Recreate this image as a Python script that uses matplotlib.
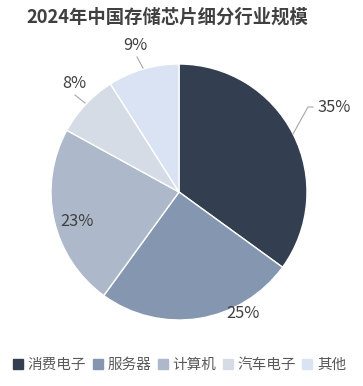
import matplotlib
matplotlib.use("Agg")
import matplotlib.pyplot as plt
from matplotlib.lines import Line2D
import numpy as np

plt.rcParams['font.family'] = ['Noto Sans CJK SC', 'DejaVu Sans']

title = "2024年中国存储芯片细分行业规模"
categories = ["消费电子", "服务器", "计算机", "汽车电子", "其他"]
values = [35, 25, 23, 8, 9]
colors = ["#333e50", "#8496b0", "#adb8ca", "#d6dce5", "#dae3f3"]

W, H = 363, 386
fig = plt.figure(figsize=(W / 100, H / 100), dpi=100)

cx, cy, R = 179, 192, 128  # pixel centre (from top) and radius
ax = fig.add_axes([(cx - R) / W, (H - cy - R) / H, 2 * R / W, 2 * R / H])
wedges, _ = ax.pie(values, colors=colors, startangle=90, counterclock=False,
                   radius=1, wedgeprops=dict(edgecolor="white", linewidth=1))
ax.set_xlim(-1, 1)
ax.set_ylim(-1, 1)

def px(dx, dy):
    return dx / R, -dy / R

txt_color = "#404040"
line_color = "#a6a6a6"
label_specs = [
    ((139, -84), [(114, -58), (129, -85), (134, -85)], "left"),
    ((64, 121), None, "center"),
    ((-102, 30), None, "center"),
    ((-105, -109), [(-94, -89), (-104, -97)], "center"),
    ((-44, -147), [(-36, -124), (-42, -135)], "center"),
]
for v, (tpos, leader, ha) in zip(values, label_specs):
    x, y = px(*tpos)
    ax.text(x, y, f"{v}%", ha=ha, va="center", fontsize=11.8, color=txt_color)
    if leader:
        pts = np.array([px(*p) for p in leader])
        ax.plot(pts[:, 0], pts[:, 1], color=line_color, lw=0.8, clip_on=False)

fig.text(167 / W, 1 - 17 / H, title, ha="center", va="center",
         fontsize=13.2, fontweight="bold", color="#404040")

handles = [Line2D([], [], marker="s", linestyle="none", markersize=7,
                  markerfacecolor=c, markeredgecolor=c) for c in colors]
fig.legend(handles, categories, loc="center", bbox_to_anchor=(180 / W, 21 / H),
           ncol=5, frameon=False, fontsize=10.5, handlelength=0.6,
           handletextpad=0.35, columnspacing=0.5, labelcolor="#595959",
           borderpad=0, borderaxespad=0)

fig.savefig("out.png", dpi=100, facecolor="white")
